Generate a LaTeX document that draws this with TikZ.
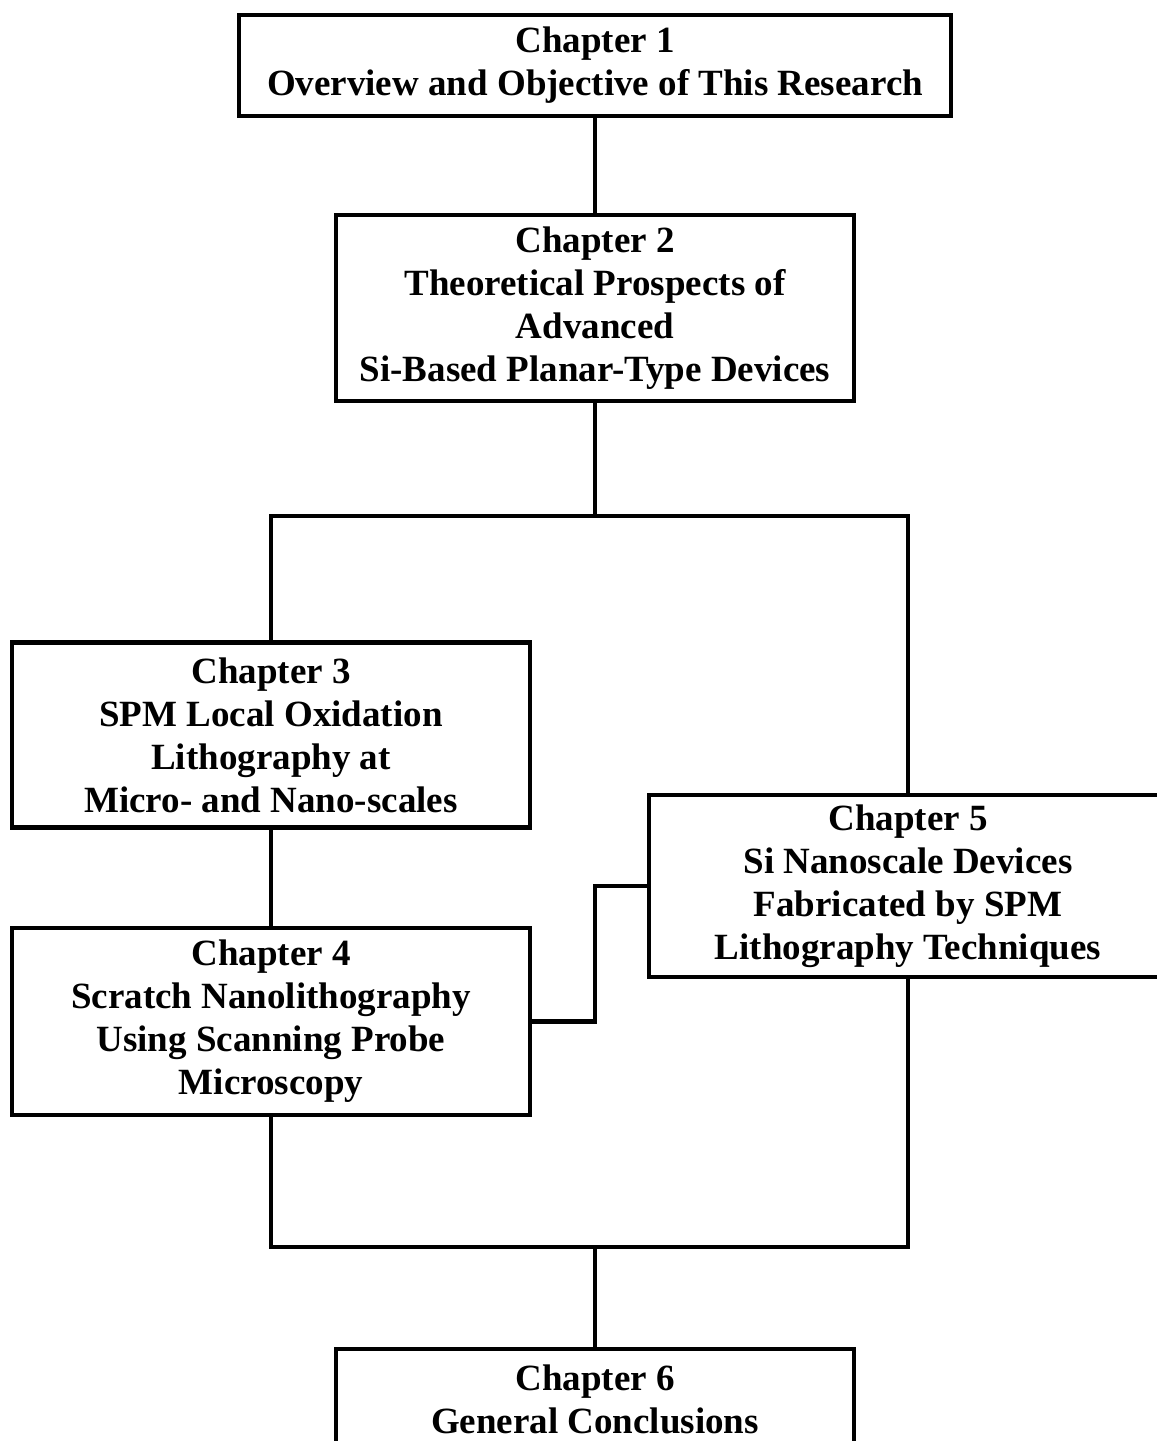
\documentclass[tikz,border=0pt]{standalone}
\usepackage{fontspec}
\setmainfont{Liberation Serif}
\usepackage{tikz}
\tikzset{
    chapbox/.style={
        draw, line width=2.4pt, align=center, inner sep=0pt,
        font=\fontsize{18.5}{21.5}\selectfont\bfseries
    },
    link/.style={line width=2.1pt}
}

\begin{document}
\begin{tikzpicture}[x=0.5pt, y=-0.5pt]

		\useasboundingbox (0,0) rectangle (1157,1441);

		\def\colmid{595}
		\def\colleft{271}
		\def\colright{908}
		\def\widthboxes{259pt}

		\node[chapbox, minimum width=356pt, minimum height=50.5pt] (ch1) at (\colmid, 65.5) {Chapter 1\\ Overview and Objective of This Research};

		\node[chapbox, minimum width=\widthboxes, minimum height=93pt] (ch2) at (\colmid, 308) {Chapter 2\\ Theoretical Prospects of\\ Advanced\\ Si-Based Planar-Type Devices};

		\node[chapbox, minimum width=\widthboxes, minimum height=92.5pt] (ch3) at (\colleft, 735) {Chapter 3\\ SPM Local Oxidation\\ Lithography at\\ Micro- and Nano-scales};

		\node[chapbox, minimum width=\widthboxes, minimum height=93.5pt] (ch4) at (\colleft, 1021.5) {Chapter 4\\ Scratch Nanolithography\\ Using Scanning Probe\\ Microscopy};

		\node[chapbox, minimum width=\widthboxes, minimum height=91pt] (ch5) at (\colright, 886) {Chapter 5\\ Si Nanoscale Devices\\ Fabricated by SPM\\ Lithography Techniques};

		\node[chapbox, minimum width=\widthboxes, minimum height=50.5pt] (ch6) at (\colmid, 1399.5) {Chapter 6\\ General Conclusions};

		% branching and joining points
		\coordinate (split) at (\colmid, 516);
		\coordinate (merge) at (\colmid, 1247);
		\coordinate (bend) at (\colmid, 955);

		\draw[link] (ch1) -- (ch2);
		\draw[link] (ch2) -- (split);
		\draw[link] (ch3.north) |- (split) -| (ch5.north);
		\draw[link] (ch3) -- (ch4);
		\draw[link] (ch4.east) -| (bend) |- (ch5.west);
		\draw[link] (ch4.south) |- (merge) -| (ch5.south);
		\draw[link] (merge) -- (ch6);

	\end{tikzpicture}
\end{document}
